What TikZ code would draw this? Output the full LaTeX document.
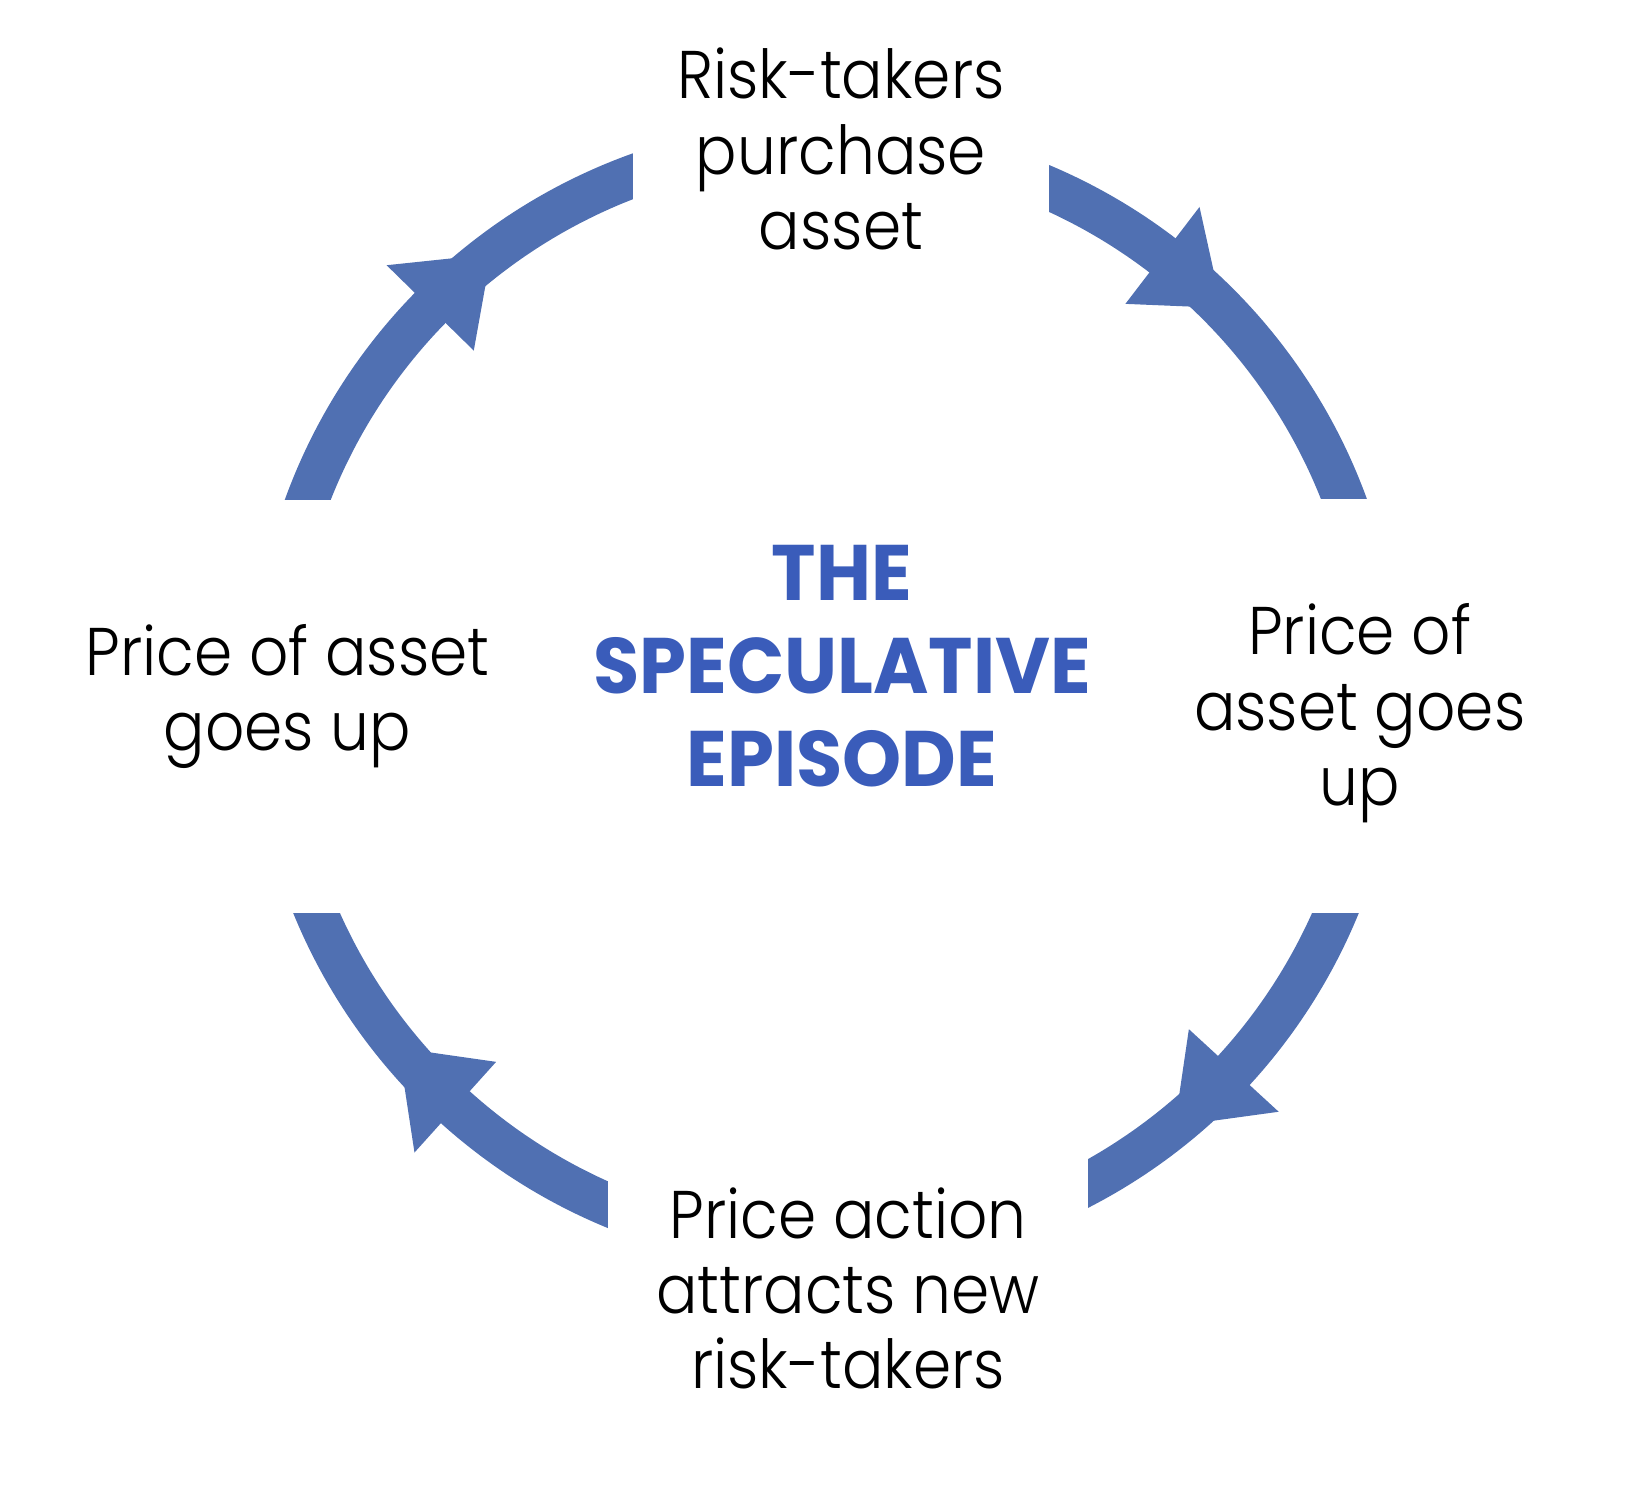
\documentclass[tikz,border=0pt]{standalone}
\usepackage{fontspec}
\setmainfont{Poppins}[UprightFont=* Light, BoldFont=* Bold, FakeStretch=0.91]
\newfontfamily\titlefont{Poppins}[UprightFont=* Bold, FakeStretch=0.955]
\definecolor{ringblue}{RGB}{80,112,178}
\definecolor{titleblue}{RGB}{58,92,186}
\tikzset{
  band/.style={line width=0.43cm,draw=ringblue},
  head/.style={fill=ringblue},
  stage/.style={fill=white,align=center,inner sep=0pt,font=\fontsize{19.2}{21.4}\selectfont},
  headline/.style={align=center,text=titleblue,font=\titlefont\fontsize{22.4}{26.5}\selectfont}
}

\begin{document}
\begin{tikzpicture}
    \useasboundingbox (-8.26,-7.885) rectangle (8.14,6.955);
    \coordinate (c) at (0,0);
    % ring first, the white stage boxes cut its ends
    \coordinate (a1) at (165:5.54);
    \coordinate (a2) at (70:5.54);
    \coordinate (a3) at (-15:5.54);
    \coordinate (a4) at (-105:5.54);
    \draw[band] (a1) arc[start angle=165,end angle=100,radius=5.54];
    \draw[band] (a2) arc[start angle=70,end angle=15,radius=5.54];
    \draw[band] (a3) arc[start angle=-15,end angle=-70,radius=5.54];
    \draw[band] (a4) arc[start angle=-105,end angle=-165,radius=5.54];
    \foreach \b/\t in {135.6/127.2,52.6/44.4,-42.6/-51,-132/-140.5}
      \fill[head] (\b:6.15) -- (\t:5.54) -- (\b:4.93) -- cycle;
    \node[stage,minimum width=4.16cm,minimum height=2.3cm] (buy) at (0.15,5.465) {Risk-takers\\purchase\\asset};
    \node[stage,minimum height=4.13cm,text depth=0.03cm] (rise1) at (5.337,-0.105) {Price of\\asset goes\\up};
    \node[stage,minimum width=4.79cm,minimum height=3cm] (attract) at (0.22,-5.931) {Price action\\attracts new\\risk-takers};
    \node[stage,minimum height=4.13cm,text depth=0.374cm] (rise2) at (-5.384,-0.11) {Price of asset\\goes up};
    \node[headline] (title) at (0.16,0.295) {THE\\SPECULATIVE\\EPISODE};
\end{tikzpicture}
\end{document}
